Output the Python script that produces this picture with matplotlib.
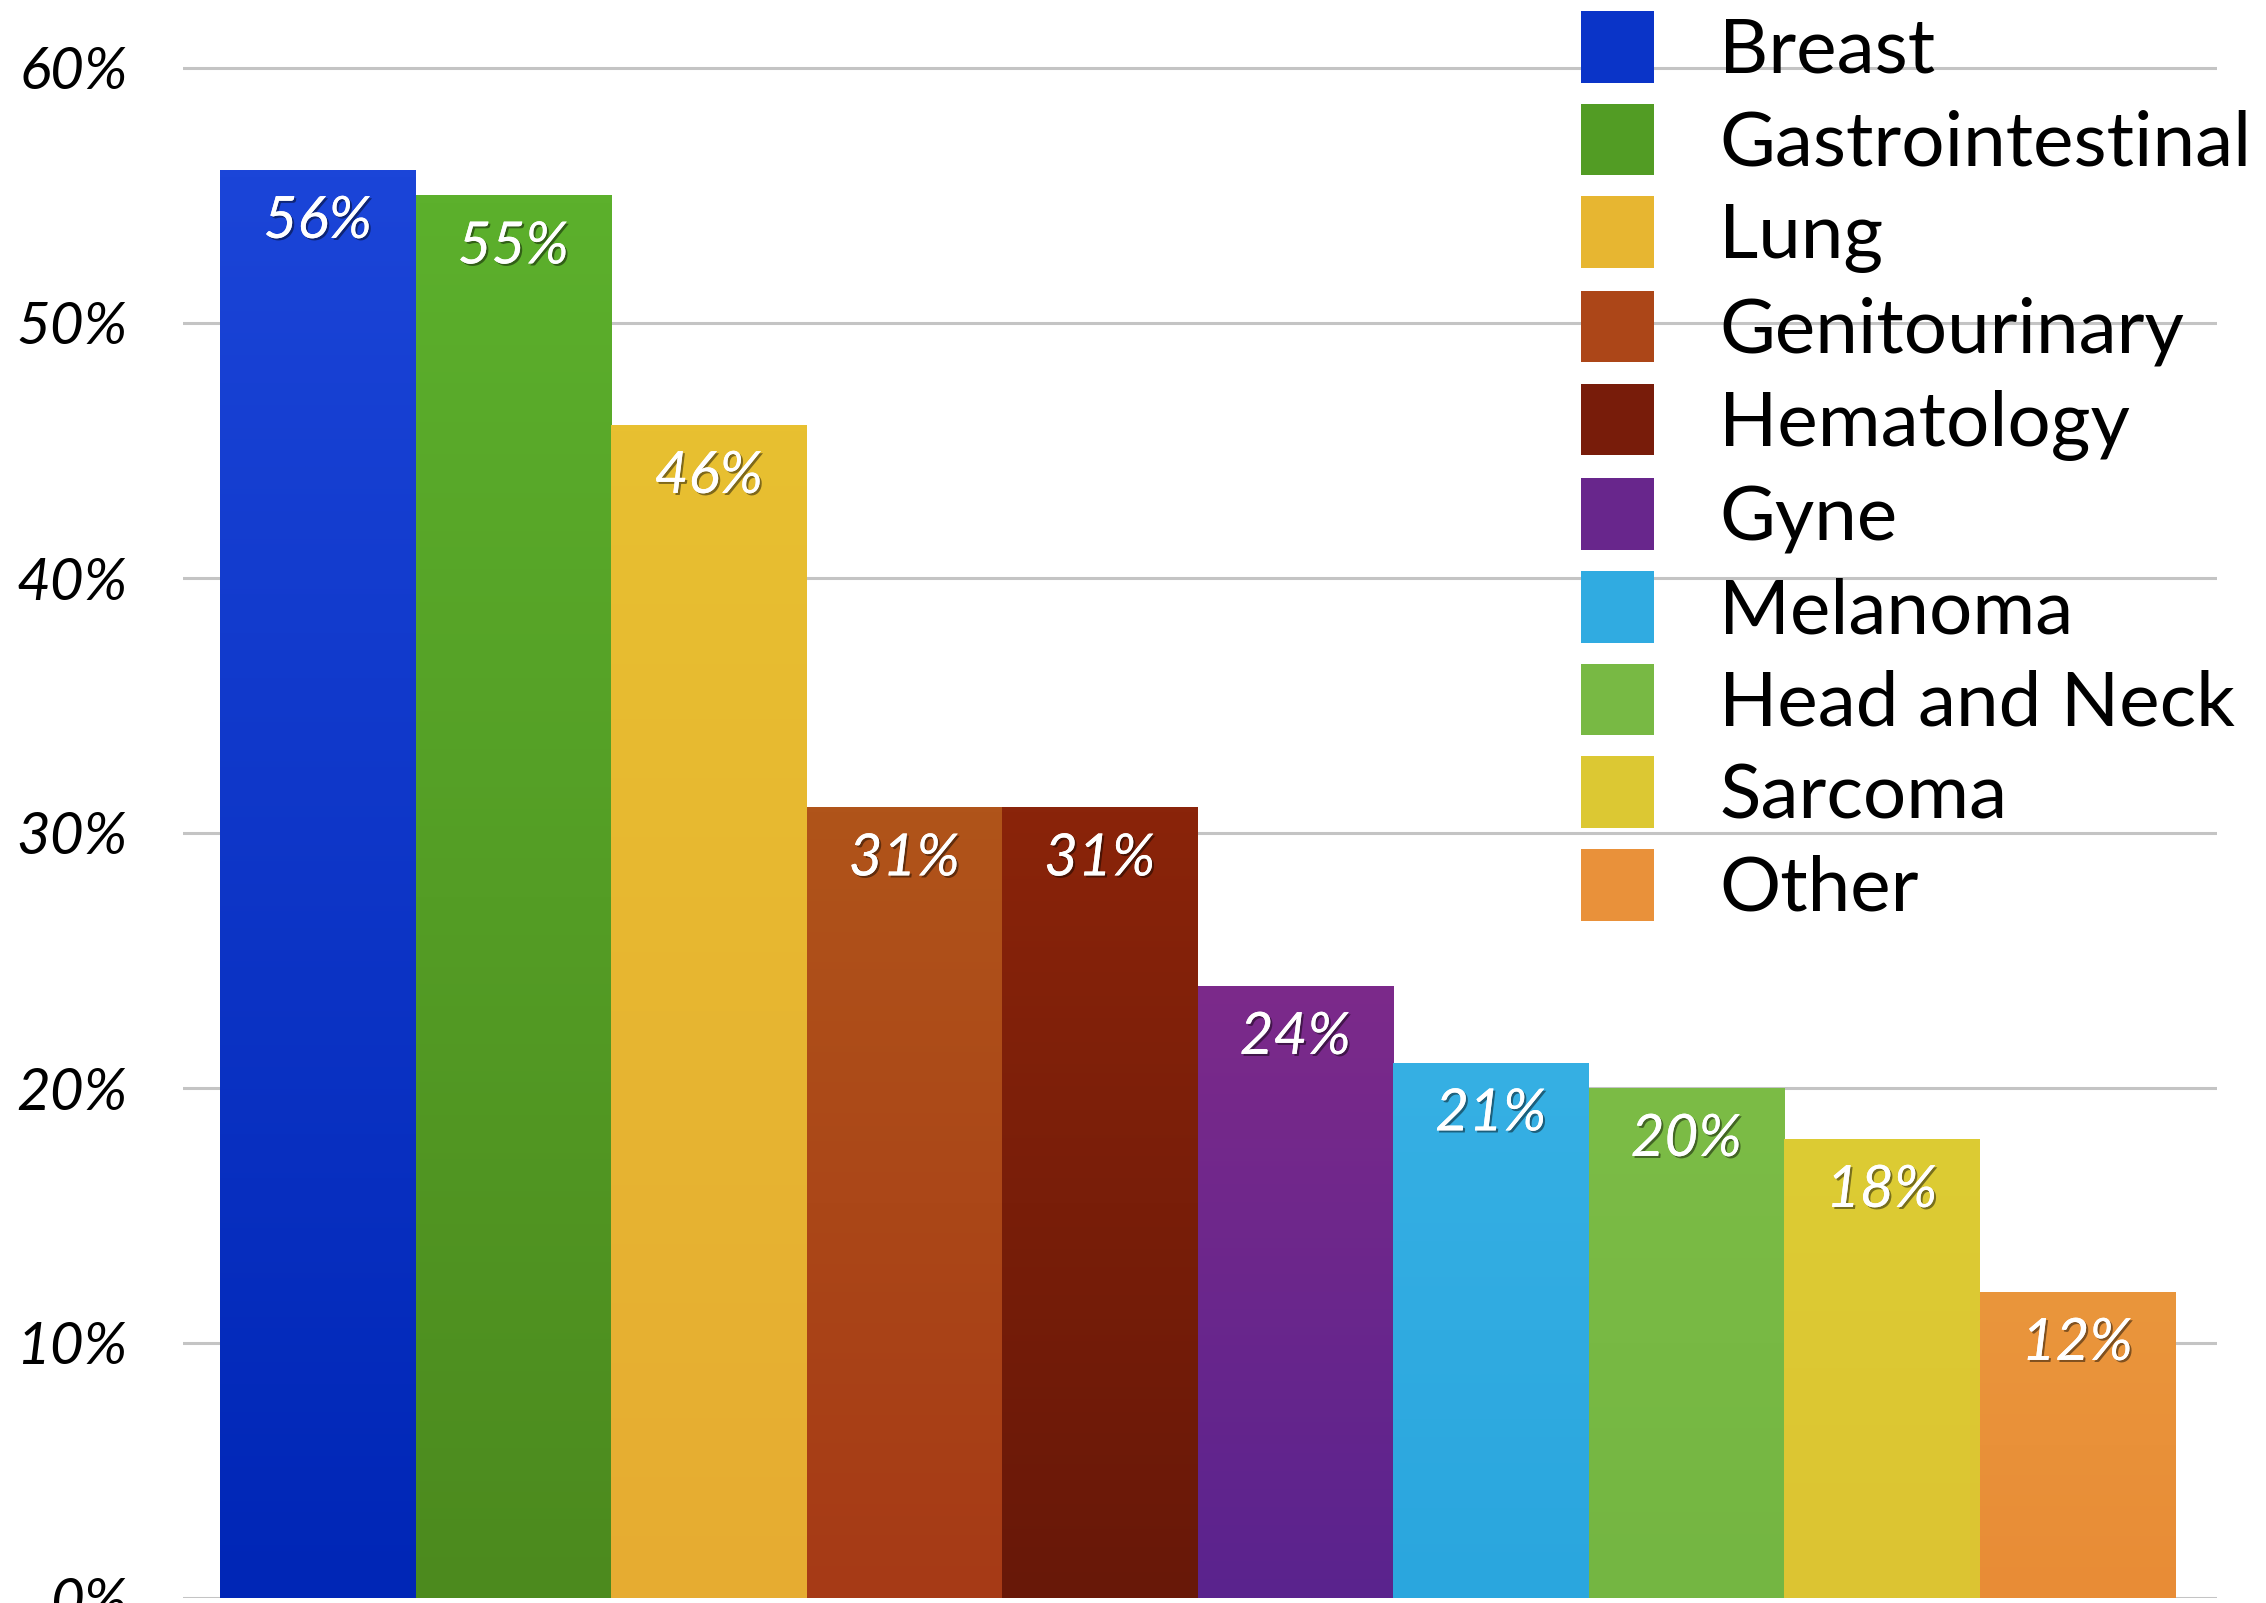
import numpy as np
import matplotlib
matplotlib.use("Agg")
import matplotlib.pyplot as plt
from matplotlib import patheffects
from matplotlib.colors import LinearSegmentedColormap
from matplotlib.patches import Patch

# Share of patients by cancer type (%)
categories = ["Breast", "Gastrointestinal", "Lung", "Genitourinary", "Hematology",
              "Gyne", "Melanoma", "Head and Neck", "Sarcoma", "Other"]
values = [56, 55, 46, 31, 31, 24, 21, 20, 18, 12]
y_ticks = [0, 10, 20, 30, 40, 50, 60]
y_tick_labels = ["0%", "10%", "20%", "30%", "40%", "50%", "60%"]

# Bar fills: (top colour, bottom colour) for a soft vertical gradient
top_colors = ["#1b45d8", "#5cb02c", "#e8c030", "#b0541a", "#8a240a",
              "#7c2a8a", "#36b0e4", "#7cbc46", "#ddcc34", "#ea963c"]
bottom_colors = ["#0026b6", "#4c8a1e", "#e6ac32", "#a63a16", "#681808",
                 "#5a238e", "#2aa6de", "#74b642", "#dcc432", "#e88c36"]
legend_colors = ["#0a34c8", "#529c24", "#e7b631", "#ac4618", "#781c0a",
                 "#68268c", "#30abe1", "#78b944", "#dcc833", "#e9913a"]

plt.rcParams["font.family"] = ["Lato", "DejaVu Sans"]

W, H, DPI = 2266, 1603, 100
fig = plt.figure(figsize=(W / DPI, H / DPI), dpi=DPI, facecolor="white")

# Axes geometry (pixels)
px_left, px_right = 183, 2217
px_zero, px_per_unit = 1598, 25.5
ymax = 62
px_top = px_zero - ymax * px_per_unit
ax = fig.add_axes([px_left / W, (H - px_zero) / H,
                   (px_right - px_left) / W, (px_zero - px_top) / H])

x = np.arange(len(categories))
bar_px = 195.5
x_lo = -0.5 - (220 - px_left) / bar_px
x_hi = x_lo + (px_right - px_left) / bar_px

bars = ax.bar(x, values, width=1.0, color=legend_colors, linewidth=0, zorder=2)

# Vertical gradient inside every bar
for bar, c_top, c_bot in zip(bars, top_colors, bottom_colors):
    cmap = LinearSegmentedColormap.from_list("g", [c_bot, c_top])
    grad = np.linspace(0, 1, 256).reshape(-1, 1)
    x0, w = bar.get_x(), bar.get_width()
    h = bar.get_height()
    im = ax.imshow(grad, cmap=cmap, origin="lower", aspect="auto",
                   extent=(x0, x0 + w, 0, h), zorder=3, interpolation="bilinear")
    im.set_clip_path(bar)

ax.set_xlim(x_lo, x_hi)
ax.set_ylim(0, ymax)

# Gridlines and y labels
ax.set_yticks(y_ticks)
ax.set_yticklabels(y_tick_labels, fontsize=42, fontstyle="italic", color="black")
ax.yaxis.grid(True, color="#c4c4c4", linewidth=2.2, zorder=1)
ax.set_axisbelow(True)
ax.tick_params(axis="y", length=0, pad=40)
ax.tick_params(axis="x", length=0, labelbottom=False)
for s in ax.spines.values():
    s.set_visible(False)

# Value labels inside the bar tops
shadow = [patheffects.withSimplePatchShadow(offset=(1.5, -1.5), shadow_rgbFace="black", alpha=0.45),
          patheffects.Normal()]
for xi, v in zip(x, values):
    ax.annotate(f"{v}%", xy=(xi, v), xytext=(0, -37), textcoords="offset points",
                ha="center", va="center", fontsize=42, fontstyle="italic",
                color="white", zorder=5, path_effects=shadow)

# Legend
handles = [Patch(facecolor=c, edgecolor="none") for c in legend_colors]
leg = fig.legend(handles, categories, loc="upper left",
                 bbox_to_anchor=(1581 / W, 1.0 - 11 / H), frameon=False, fontsize=55,
                 handlelength=0.96, handleheight=1.07, handletextpad=0.85,
                 labelspacing=0.23, borderpad=0, borderaxespad=0)

fig.savefig("out.png", dpi=DPI, facecolor="white")
